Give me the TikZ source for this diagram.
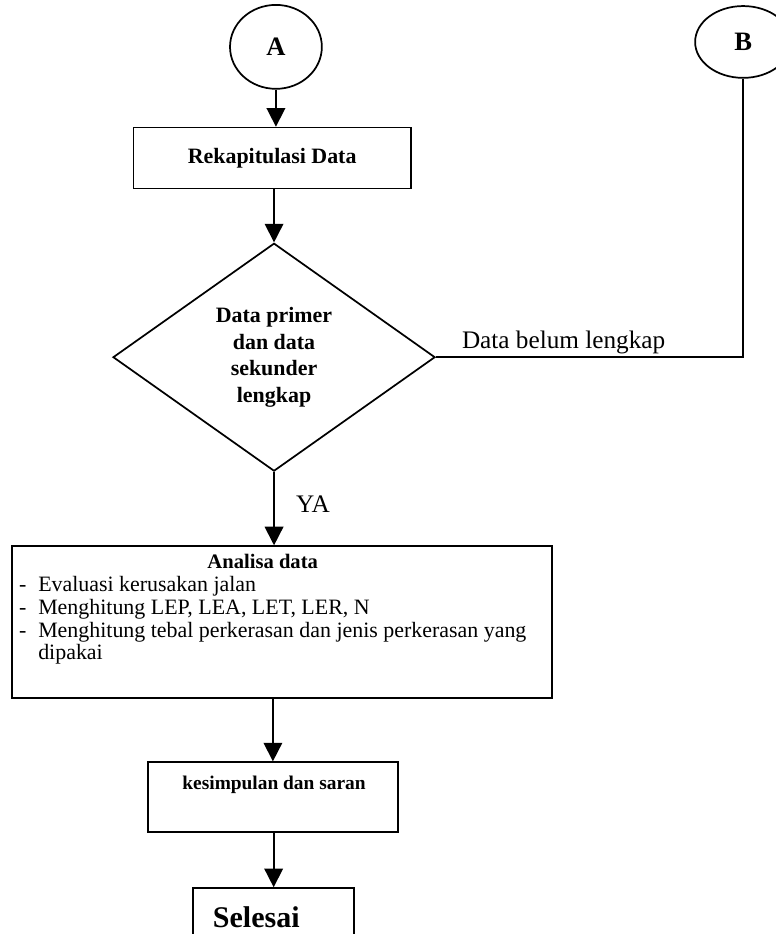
\documentclass[tikz,border=0pt]{standalone}
\usepackage{fontspec}
\setmainfont{Liberation Serif}
\usetikzlibrary{shapes.geometric,arrows.meta}
\begin{document}
\begin{tikzpicture}[x=1cm,y=1cm,line width=1.3pt,
  box/.style={draw, rectangle},
  conn/.style={draw, ellipse, inner sep=0pt, font=\fontsize{20}{24}\selectfont\bfseries},
  arr/.style={-{Triangle[length=14pt,width=14pt]}}]
\useasboundingbox (0,0) rectangle (20.53,-24.71);
\node[conn, minimum width=2.43cm, minimum height=2.22cm] (a) at (7.30,-1.24) {A};
\node[conn, minimum width=2.54cm, minimum height=1.90cm] (b) at (19.66,-1.11) {B};
\node[box, minimum width=7.33cm, minimum height=1.61cm, font=\fontsize{16.5}{20}\selectfont\bfseries] (rekap) at (7.20,-4.18) {Rekapitulasi Data};
\node[draw, diamond, inner sep=0pt, minimum width=8.52cm, minimum height=6.03cm, align=center, font=\fontsize{16.5}{20}\selectfont\bfseries] (cek) at (7.25,-9.45) {Data primer\\dan data\\sekunder\\lengkap};
\node[anchor=base west, inner sep=0pt, font=\fontsize{19}{22}\selectfont] (belum) at (12.2,-9.21) {Data belum lengkap};
\node[anchor=base west, inner sep=0pt, font=\fontsize{19}{22}\selectfont] (ya) at (7.81,-13.57) {YA};
\node[box, minimum width=14.29cm, minimum height=4.02cm] (analisa) at (7.46,-16.46) {};
\node[anchor=base, inner sep=0pt, font=\fontsize{15.5}{17}\selectfont\bfseries] (judul) at (6.95,-15.03) {Analisa data};
\node[anchor=north west, inner sep=0pt, font=\fontsize{16.5}{17}\selectfont] (daftar) at (0.48,-15.22) {%
  \begin{tabular}{@{}l@{\hspace{9pt}}l@{}}
  - & Evaluasi kerusakan jalan\\
  - & Menghitung LEP, LEA, LET, LER, N\\
  - & Menghitung tebal perkerasan dan jenis perkerasan yang\\
    & dipakai
  \end{tabular}};
\node[box, minimum width=6.61cm, minimum height=1.85cm] (kesimpulan) at (7.22,-21.09) {};
\node[anchor=base, inner sep=0pt, font=\fontsize{14.6}{17}\selectfont\bfseries] (saran) at (7.25,-20.90) {kesimpulan dan saran};
\node[box, minimum width=4.26cm, minimum height=1.71cm] (selesai) at (7.24,-24.35) {};
\node[anchor=base, inner sep=0pt, font=\fontsize{22.6}{26}\selectfont\bfseries] (tutup) at (6.78,-24.53) {Selesai};
\draw[arr] (a.south) -- (a.south |- rekap.north);
\draw[arr] (rekap.south -| cek.north) -- (cek.north);
\draw (cek.east) -| (b.south);
\draw[arr] (cek.south) -- (cek.south |- analisa.north);
\draw[arr] (kesimpulan.north |- analisa.south) -- (kesimpulan.north);
\draw[arr] (kesimpulan.south -| selesai.north) -- (selesai.north);
\end{tikzpicture}
\end{document}
